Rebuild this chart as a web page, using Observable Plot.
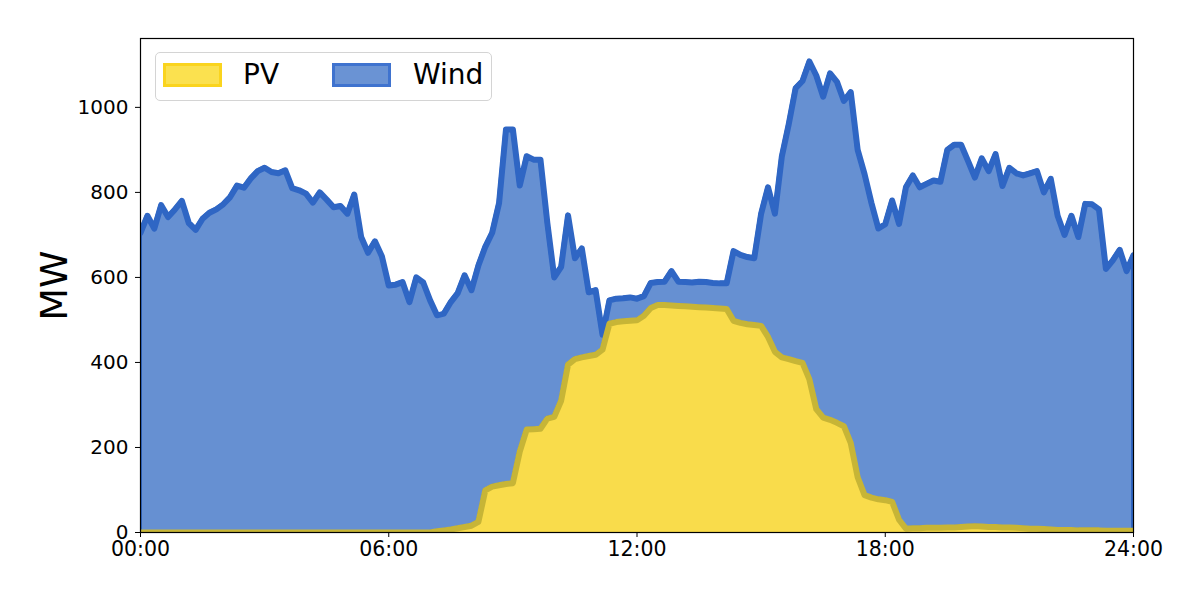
<!DOCTYPE html>
<html><head><meta charset="utf-8">
<script src="https://cdn.jsdelivr.net/npm/d3@7"></script>
<script src="https://cdn.jsdelivr.net/npm/@observablehq/plot@0.6"></script>
<style>
html,body{margin:0;padding:0;background:#fff;}
#wrap{position:relative;width:1200px;height:600px;font-family:"DejaVu Sans",sans-serif;}
#legend{position:absolute;left:155px;top:52px;width:335px;height:47px;border:1px solid #d4d4d4;border-radius:5px;background:rgba(255,255,255,0.8);}
.sw{position:absolute;top:10px;width:53px;height:18px;border:3px solid;}
.lb{position:absolute;top:3px;font-size:28px;line-height:38px;color:#000;white-space:nowrap;}
</style></head><body>
<div id="wrap"><div id="chart"></div>
<div id="legend">
  <div class="sw" style="left:7px;background:#fbe14f;border-color:#fad41e;"></div>
  <div class="lb" style="left:87px;">PV</div>
  <div class="sw" style="left:176px;background:#6a93d4;border-color:#3f73cf;"></div>
  <div class="lb" style="left:257px;">Wind</div>
</div>
</div>
<script>
// 10-minute samples from 00:00 to 24:00
const stepMinutes = 10;
const seriesNames = ["PV", "Wind"];
const xTickHours = [0, 6, 12, 18, 24];
const xTickLabels = ["00:00", "06:00", "12:00", "18:00", "24:00"];
const yTicks = [0, 200, 400, 600, 800, 1000];
const yLabel = "MW";

// PV output (MW)
const pv = [
0,0,0,0,0,0,0,0,0,0,
0,0,0,0,0,0,0,0,0,0,
0,0,0,0,0,0,0,0,0,0,
0,0,0,0,0,0,0,0,0,0,
0,0,0,3,5,7,10,13,16,25,
99,108,111,114,116,190,242,243,244,268,
272,310,395,408,412,415,418,430,491,495,
497,498,499,510,528,535,535,534,533,532,
531,530,529,528,527,526,498,493,490,488,
486,460,425,412,408,403,399,360,290,270,
265,258,250,210,130,88,82,78,76,72,
30,9,10,10,11,11,11,12,12,13,
14,15,14,13,13,12,12,11,10,9,
9,8,7,6,6,6,5,5,5,5,
4,4,4,4,4];

// Top of the stacked Wind layer (PV + Wind, MW)
const stackTop = [
705,745,715,770,742,760,780,728,712,738,
752,760,772,789,816,811,833,850,858,848,
845,852,810,805,797,776,800,783,765,768,
750,795,695,658,685,650,581,583,589,542,
600,588,546,511,515,542,563,605,570,628,
672,705,775,948,948,816,885,877,877,728,
600,625,746,645,668,565,570,465,546,550,
551,553,550,556,587,589,590,615,590,589,
588,590,589,587,586,586,662,653,648,645,
750,812,750,884,960,1045,1062,1108,1075,1025,
1080,1060,1015,1036,900,843,775,715,725,781,
726,812,840,812,820,828,825,900,912,912,
874,835,880,850,890,815,858,845,840,845,
850,800,832,745,700,745,695,773,772,760,
620,640,665,615,652];

const rows = stackTop.map((top, i) => ({
  h: i * stepMinutes / 60,
  pv: pv[i],
  wind: top - pv[i],
  top
}));

const chart = Plot.plot({
  width: 1200, height: 600,
  marginLeft: 140, marginRight: 67, marginTop: 38, marginBottom: 68,
  style: {fontFamily: "DejaVu Sans", fontSize: "20px", background: "white", color: "black"},
  x: {domain: [0, 24]},
  y: {domain: [0, 1162]},
  marks: [
    Plot.areaY(rows, {x: "h", y1: "pv", y2: "top", fill: "#6690d2", stroke: "#2f66c4", strokeWidth: 4, clip: true}),
    Plot.areaY(rows, {x: "h", y1: d => 0, y2: "pv", fill: "#f9dc4b", clip: true}),
    Plot.lineY(rows, {x: "h", y: "top", stroke: "#2f66c4", strokeWidth: 6, clip: true}),
    Plot.lineY(rows, {x: "h", y: "pv", stroke: "#c7b536", strokeWidth: 6, clip: true}),
    Plot.axisX({ticks: xTickHours, tickFormat: (d, i) => xTickLabels[i], tickSize: 5, tickPadding: 4, label: null, fontSize: 20.5}),
    Plot.axisY({ticks: yTicks, tickFormat: d => String(d), tickSize: 5, tickPadding: 7, label: null, fontSize: 20}),
    Plot.text([yLabel], {text: d => d, frameAnchor: "left", textAnchor: "middle", lineAnchor: "middle", rotate: -90, dx: -86, fontSize: 38, fill: "black"}),
    Plot.frame({stroke: "black", strokeWidth: 1.2})
  ]
});
document.getElementById("chart").appendChild(chart);
</script>
</body></html>
